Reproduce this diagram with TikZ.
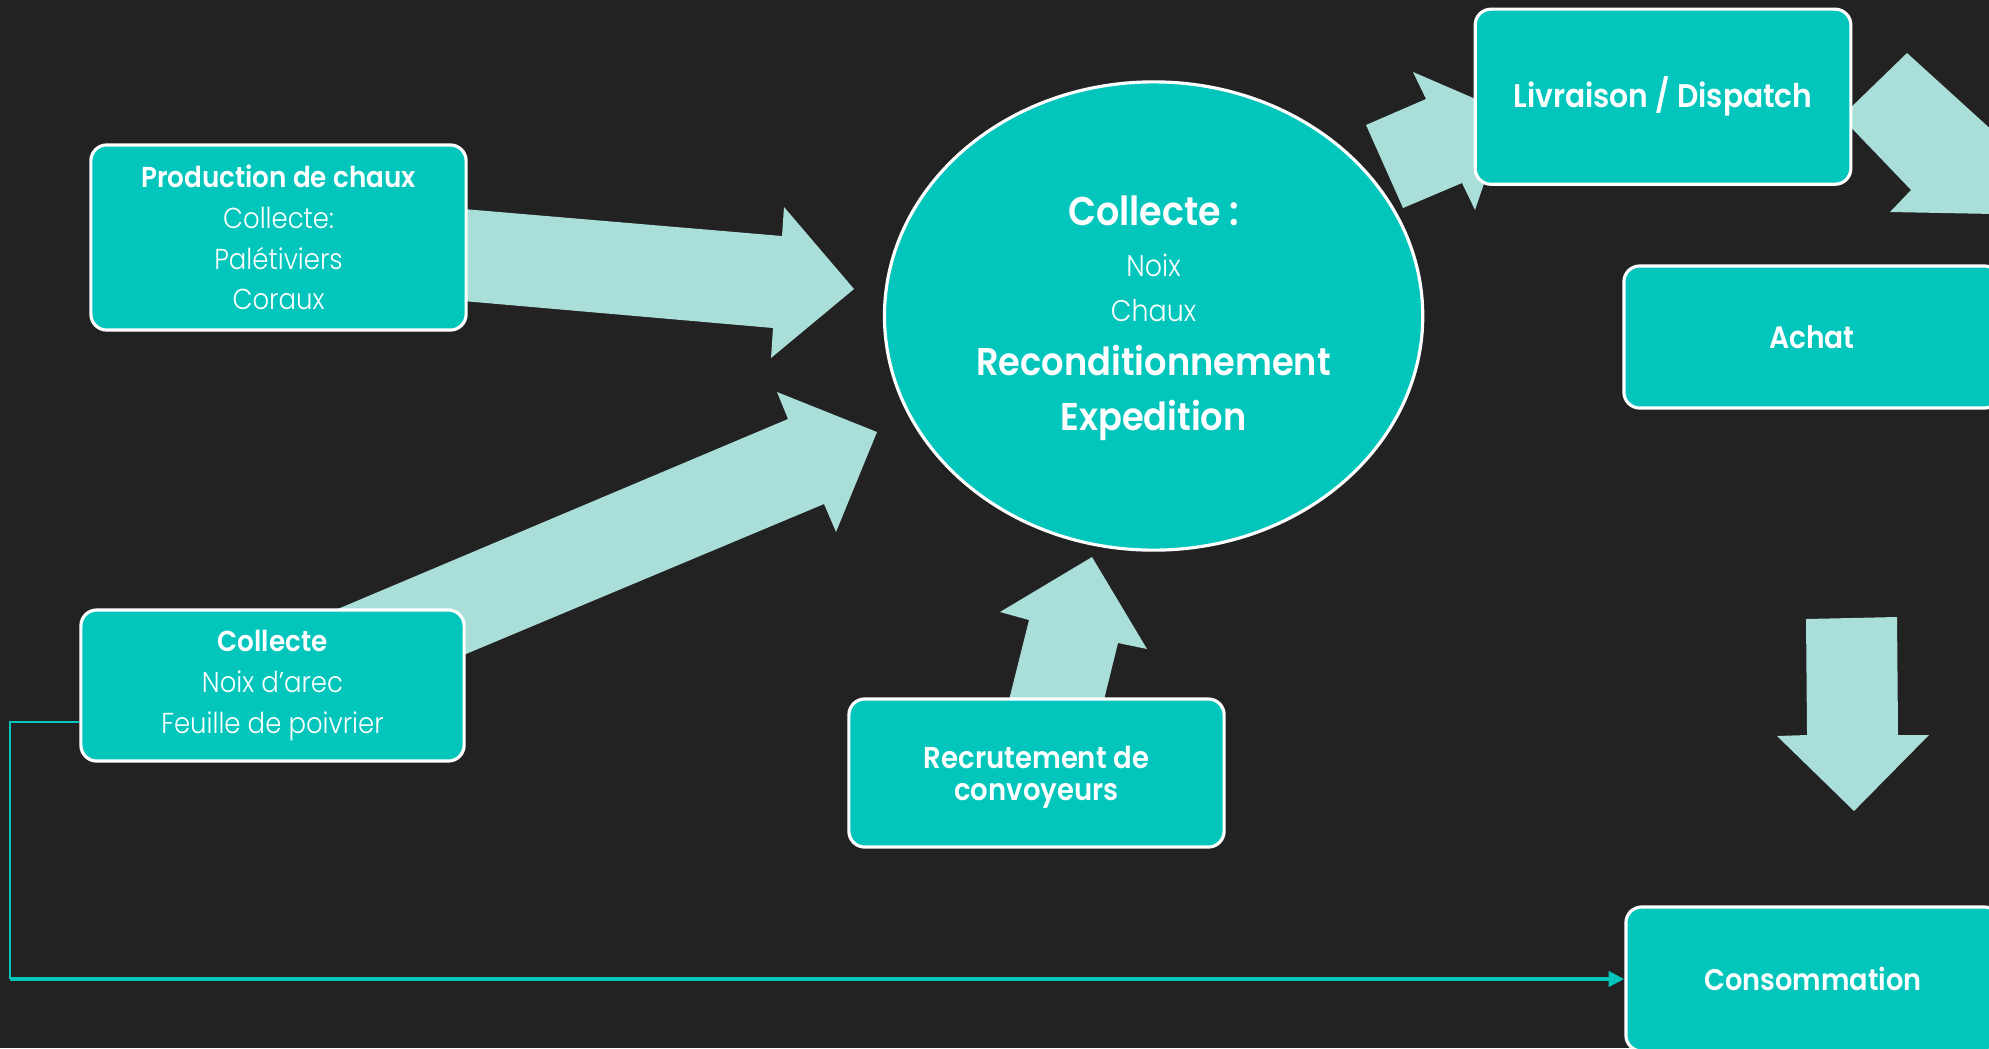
\documentclass[tikz,border=0pt]{standalone}
\usepackage{fontspec}
\setmainfont{Poppins}[FakeStretch=0.91]
\newfontfamily\lightfont{Poppins Light}[FakeStretch=0.9]
\newfontfamily\boldfont{Poppins SemiBold}[FakeStretch=0.91]
\usepackage{tikz}
\usetikzlibrary{shapes.geometric,positioning,arrows.meta}
\usepackage{xcolor}
\definecolor{bgdark}{HTML}{222222}
\definecolor{boxteal}{HTML}{02C6BC}
\definecolor{fatteal}{HTML}{AADED8}

\begin{document}
\begin{tikzpicture}[x=0.01cm,y=-0.01cm]
    \tikzstyle{block} = [draw=white,line width=0.9pt,fill=boxteal,rounded corners=4.5pt,text=white,align=center,inner sep=0pt]
    \tikzstyle{hub} = [ellipse,draw=white,line width=0.9pt,fill=boxteal,inner sep=0pt]
    \tikzstyle{hubtext} = [text=white,anchor=base,inner sep=0pt]
    \tikzstyle{fat} = [fill=fatteal]
    \tikzstyle{thinlink} = [draw=boxteal,line width=0.6pt]
    \tikzstyle{link} = [draw=boxteal,line width=1.3pt]
    \useasboundingbox (0,0) rectangle (1989,1048);
    \fill[bgdark] (0,0) rectangle (1989,1048);
    % big arrows, under the boxes
    \fill[fat] (440,207) -- (782,236) -- (784,207) -- (854,289) -- (771,358) -- (773,328) -- (440,299) -- cycle;
    \fill[fat] (250,646) -- (788,419) -- (777,392) -- (877,432) -- (836,532) -- (824,504) -- (380,690) -- cycle;
    \fill[fat] (1004,720) -- (1029,620) -- (1000,612) -- (1092,557) -- (1147,649) -- (1118,643) -- (1099,720) -- cycle;
    \fill[fat] (1366,125) -- (1426,99) -- (1413,72) -- (1508,113) -- (1475,210) -- (1462,183) -- (1403,208) -- cycle;
    \fill[fat] (1841,117) -- (1907,53) -- (1995,133) -- (1995,214) -- (1890,212) -- (1911,190) -- cycle;
    \fill[fat] (1806,619) -- (1897,617) -- (1898,735) -- (1929,735) -- (1854,811) -- (1777,736) -- (1807,735) -- cycle;
    % boxes
    \node[block,minimum width=3.75cm,minimum height=1.85cm,font=\lightfont\fontsize{8.2}{11.6}\selectfont] (prod) at (278.5,237.5) {{\boldfont Production de chaux}\\Collecte:\\Palétiviers\\Coraux};
    \node[block,minimum width=3.83cm,minimum height=1.51cm,font=\lightfont\fontsize{8.2}{11.6}\selectfont] (coll) at (272.5,685.5) {{\boldfont Collecte}\\Noix d’arec\\Feuille de poivrier};
    \node[block,minimum width=3.75cm,minimum height=1.48cm,text depth=0pt,font=\boldfont\fontsize{8.6}{9}\selectfont] (recr) at (1036.5,773) {Recrutement de\\convoyeurs};
    \node[block,minimum width=3.755cm,minimum height=1.75cm,font=\boldfont\fontsize{9.3}{11}\selectfont] (livr) at (1663,96.7) {Livraison / Dispatch};
    \node[block,minimum width=3.76cm,minimum height=1.42cm,font=\boldfont\fontsize{8.8}{11}\selectfont] (achat) at (1812,337) {Achat};
    \node[block,minimum width=3.74cm,minimum height=1.44cm,font=\boldfont\fontsize{8.5}{11}\selectfont] (cons) at (1813,979) {Consommation};
    % centre
    \node[hub,minimum width=5.38cm,minimum height=4.68cm] (hub) at (1153.6,316) {};
    \node[hubtext,font=\boldfont\fontsize{11.4}{13}\selectfont] (hubtitle) at (1153.6,225.7) {Collecte :};
    \node[hubtext,font=\lightfont\fontsize{8.5}{10}\selectfont] (hubnoix) at (1153.6,276) {Noix};
    \node[hubtext,font=\lightfont\fontsize{8.5}{10}\selectfont] (hubchaux) at (1153.6,321) {Chaux};
    \node[hubtext,font=\boldfont\fontsize{11}{13}\selectfont] (hubrecond) at (1153.6,375) {Reconditionnement};
    \node[hubtext,font=\boldfont\fontsize{11}{13}\selectfont] (hubexped) at (1153.6,430.7) {Expedition};
    % thin link to consommation
    \coordinate (corner) at (10,722);
    \draw[thinlink] (coll.west |- corner) -- (corner) -- (corner |- cons.west);
    \draw[link,-{Triangle[length=4.5pt,width=4.3pt]}] (corner |- cons.west) -- (cons.west);
\end{tikzpicture}
\end{document}
